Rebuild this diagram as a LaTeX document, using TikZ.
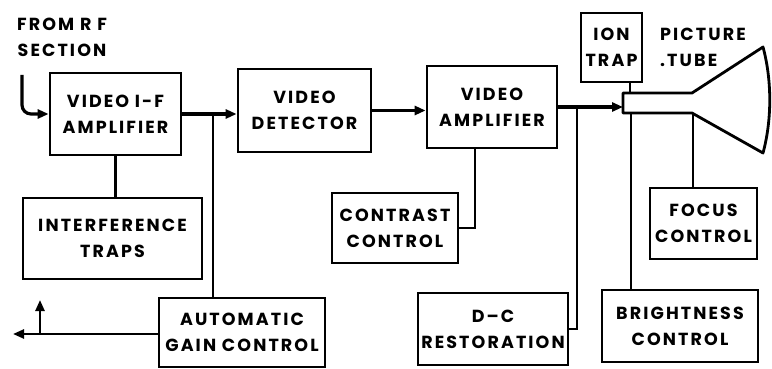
\documentclass[tikz,border=0pt]{standalone}
\usepackage{fontspec}
\setmainfont{Poppins}[LetterSpace=12]
\usetikzlibrary{arrows.meta}
\begin{document}
\begin{tikzpicture}[x=1pt,y=-1pt,
  font=\fontsize{17.5}{26}\selectfont\bfseries,
  box/.style={draw,line width=2.8pt,rectangle,align=center,inner sep=0pt},
  wire/.style={line width=2.4pt},
  sig/.style={line width=3.2pt},
  arr/.style={-{Triangle[length=11pt,width=9pt]}},
  lbl/.style={align=center,inner sep=0pt}]
\useasboundingbox (0,0) rectangle (772,369);
% blocks
\node[box,minimum width=131pt,minimum height=82pt] (vif) at (115.5,114) {VIDEO I-F\\AMPLIFIER};
\node[box,minimum width=133pt,minimum height=83pt] (det) at (304.5,110.5) {VIDEO\\DETECTOR};
\node[box,minimum width=130pt,minimum height=82pt] (vamp) at (492,107) {VIDEO\\AMPLIFIER};
\node[box,minimum width=179pt,minimum height=81pt] (traps) at (112.5,238.5) {INTERFERENCE\\TRAPS};
\node[box,minimum width=166pt,minimum height=69pt] (agc) at (242,332.5) {AUTOMATIC\\GAIN CONTROL};
\node[box,minimum width=126pt,minimum height=70pt] (contrast) at (395,228) {CONTRAST\\CONTROL};
\node[box,minimum width=150pt,minimum height=72pt] (dcr) at (493,329) {D--C\\RESTORATION};
\node[box,minimum width=156pt,minimum height=72pt] (bright) at (680,326) {BRIGHTNESS\\CONTROL};
\node[box,minimum width=107pt,minimum height=71pt] (focus) at (703.5,223.5) {FOCUS\\CONTROL};
\node[box,minimum width=61pt,minimum height=69pt] (ion) at (611.5,47.5) {ION\\TRAP};
% labels
\node[lbl] (rflbl) at (62,37) {FROM R F\\SECTION};
\node[lbl,align=left,anchor=west] (ptlbl) at (660,47) {PICTURE\\.TUBE};
% picture tube
\draw[line width=2.8pt,line join=round] (623,93) -- (692,93) -- (763,47)
  .. controls (772,80) and (772,120) .. (763,153) -- (692,113) -- (623,113) -- cycle;
\coordinate (neck) at (623,107);
\coordinate (necktop) at (630,93);
\coordinate (neckbot) at (631,113);
\coordinate (conebot) at (693,113);
% signal path
\coordinate (rf) at (22,75);
\draw[sig,arr,rounded corners=9pt] (rf) |- (vif.west);
\draw[sig,arr] (vif.east) -- (vif.east -| det.west);
\draw[sig,arr] (det.east) -- (det.east -| vamp.west);
\draw[sig,arr] (vamp.east) -- (neck);
% branches
\coordinate (agcj) at (213,114);
\draw[wire] (agcj) -- (agcj |- agc.north);
\draw[wire] (vif.south) -- (vif.south |- traps.north);
\coordinate (agcout) at (13,334);
\coordinate (agcb) at (40,334);
\coordinate (agcup) at (40,300);
\draw[wire,arr] (agc.west |- agcout) -- (agcout);
\draw[wire,arr] (agcb) -- (agcup);
\coordinate (cj) at (475,148);
\draw[wire] (cj) |- (contrast.east);
\coordinate (dj) at (577,107);
\draw[wire] (dj) |- (dcr.east);
\draw[wire] (necktop |- ion.south) -- (necktop);
\draw[wire] (neckbot) -- (neckbot |- bright.north);
\draw[wire] (conebot) -- (conebot |- focus.north);
\end{tikzpicture}
\end{document}
